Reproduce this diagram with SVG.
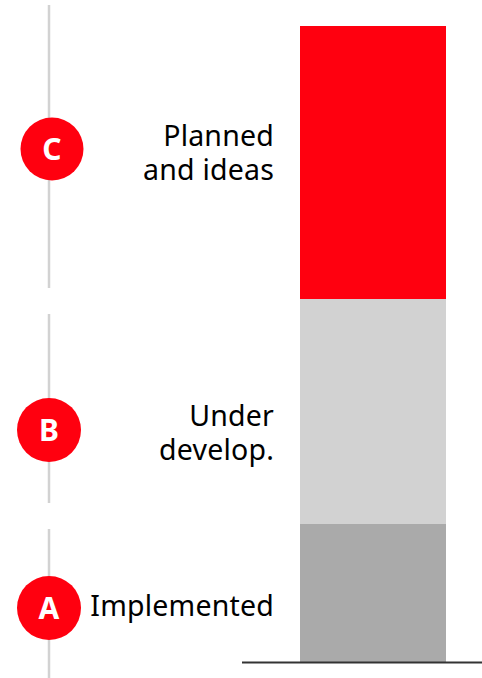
<svg xmlns="http://www.w3.org/2000/svg" width="482" height="678" viewBox="0 0 482 678">
<style>
.vline{stroke:#d2d2d2;stroke-width:2.5;fill:none}
.badge{fill:#ff000f}
.badgeTxt{font-family:"Noto Sans","Open Sans",sans-serif;font-weight:700;font-size:30px;fill:#ffffff;text-anchor:middle}
.lbl{font-family:"Noto Sans","Open Sans",sans-serif;font-size:28.5px;letter-spacing:0.2px;fill:#000000;text-anchor:end}
</style>
<rect width="482" height="678" fill="#ffffff"/>
<g id="connectors">
<line class="vline" x1="49" y1="5" x2="49" y2="288"/>
<line class="vline" x1="49" y1="314" x2="49" y2="503"/>
<line class="vline" x1="49" y1="529" x2="49" y2="678"/>
</g>
<g id="bar">
<rect x="300" y="26" width="146" height="273" fill="#ff000f"/>
<rect x="300" y="299" width="146" height="225" fill="#d2d2d2"/>
<rect x="300" y="524" width="146" height="139" fill="#aaaaaa"/>
<line x1="242" y1="662.5" x2="482" y2="662.5" stroke="#333333" stroke-width="2"/>
</g>
<g id="nodeC">
<circle class="badge" cx="52" cy="149" r="31.5"/>
<text class="badgeTxt" x="52" y="160">C</text>
<text class="lbl" x="274" y="146">Planned</text>
<text class="lbl" x="274" y="180">and ideas</text>
</g>
<g id="nodeB">
<circle class="badge" cx="49" cy="430" r="32"/>
<text class="badgeTxt" x="49" y="441">B</text>
<text class="lbl" x="274" y="426">Under</text>
<text class="lbl" x="274" y="460">develop.</text>
</g>
<g id="nodeA">
<circle class="badge" cx="49" cy="608" r="32"/>
<text class="badgeTxt" x="49" y="619">A</text>
<text class="lbl" x="274" y="616">Implemented</text>
</g>
</svg>
